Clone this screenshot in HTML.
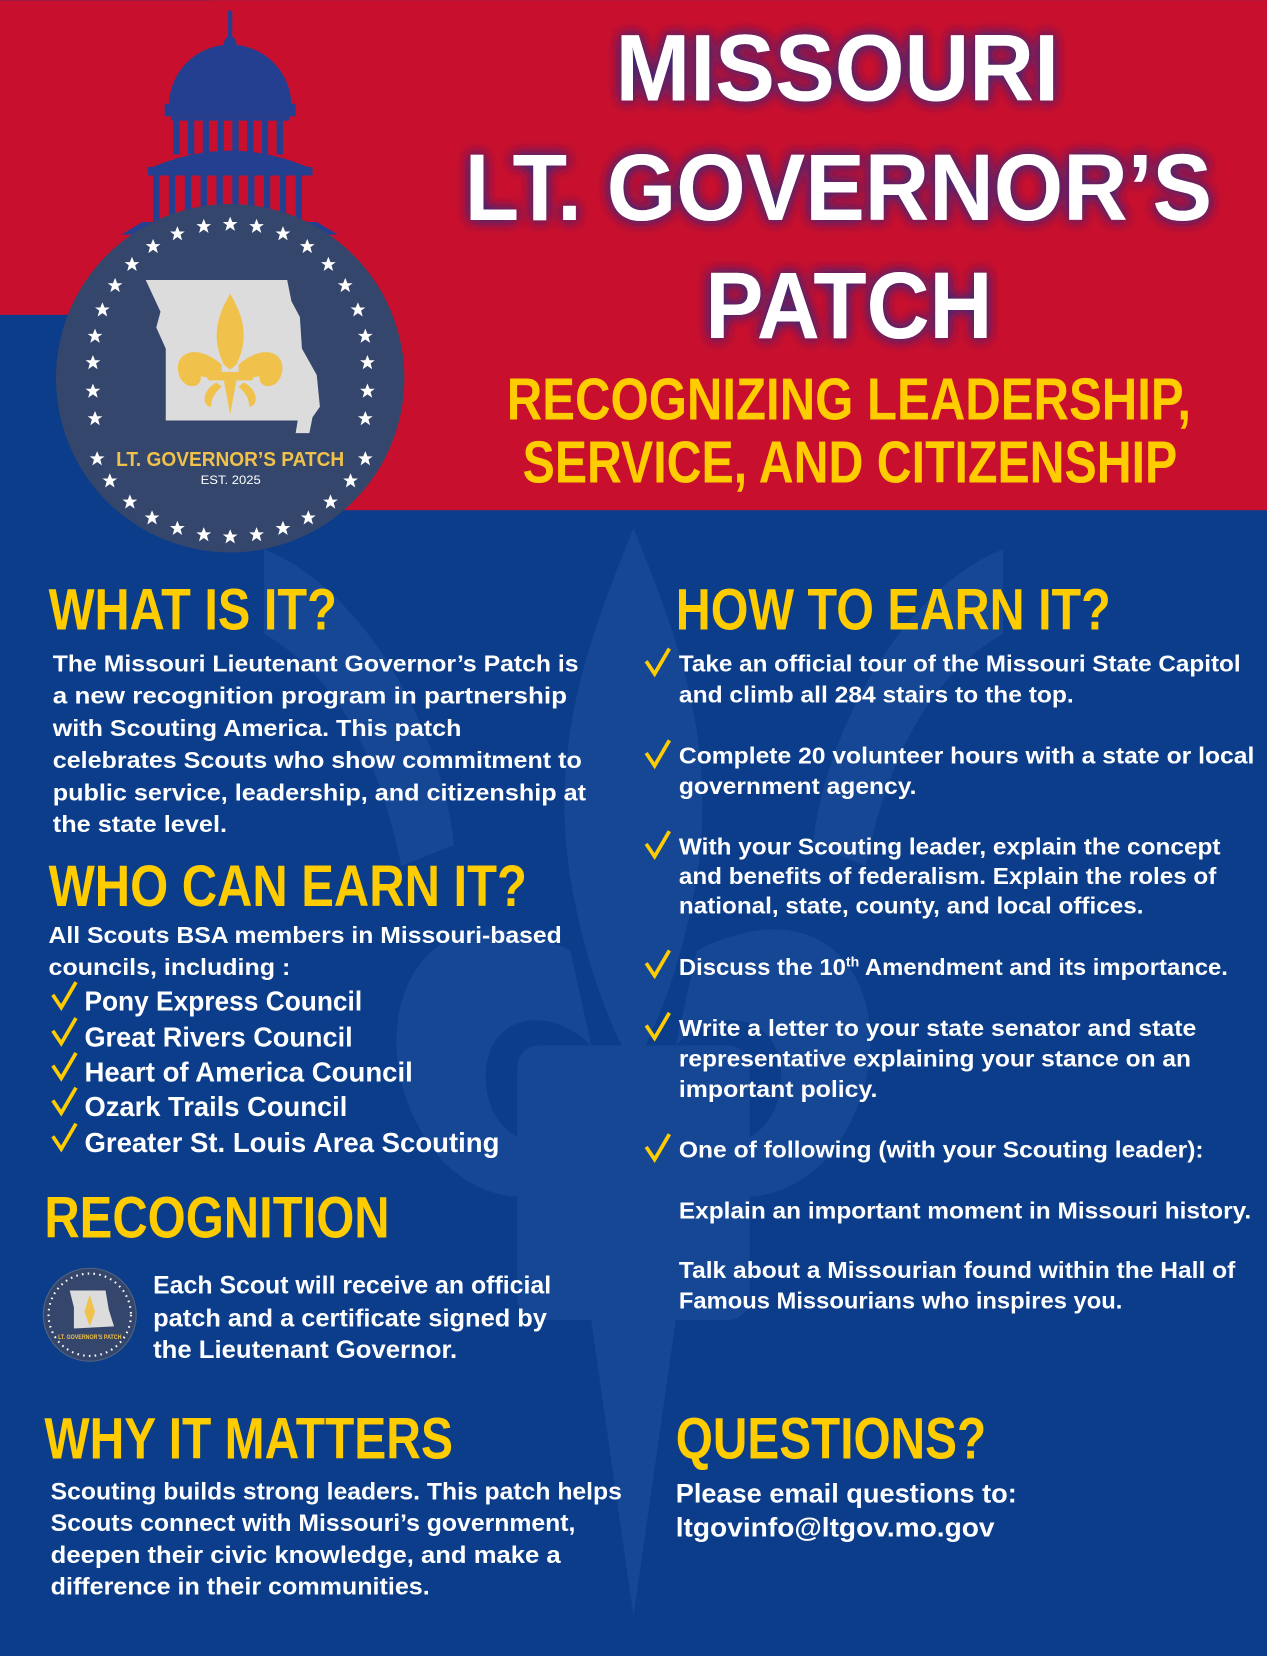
<!DOCTYPE html>
<html><head><meta charset="utf-8"><style>
html,body{margin:0;padding:0;width:1267px;height:1656px;overflow:hidden;background:#0b3d8b}
svg{display:block}
text{font-family:"Liberation Sans",sans-serif;font-weight:bold}
.w{fill:#fff;font-size:22px}
.y{fill:#ffcc00}
</style></head><body>
<svg width="1267" height="1656" viewBox="0 0 1200 1568" xmlns="http://www.w3.org/2000/svg">
<defs>
<filter id="glow" x="-20%" y="-40%" width="140%" height="180%"><feGaussianBlur in="SourceAlpha" stdDeviation="6" result="b"/><feFlood flood-color="#3a2a7a" flood-opacity="0.9"/><feComposite in2="b" operator="in" result="s"/><feMerge><feMergeNode in="s"/><feMergeNode in="s"/><feMergeNode in="SourceGraphic"/></feMerge></filter>
<g id="chk"><path d="M0 12 L8 24 L22 0" fill="none" stroke="#ffcc00" stroke-width="3.5"/></g>
</defs>
<rect width="1200" height="1568" fill="#0b3d8b"/>
<!-- watermark -->
<g fill="#2b5ca6" opacity="0.35">
<path d="M600 500 C560 600 520 700 540 830 C560 950 600 1010 600 1010 C600 1010 640 950 660 830 C680 700 640 600 600 500Z"/>
<path d="M540 900 C380 820 330 1000 420 1100 C480 1160 560 1130 560 1080 C520 1100 460 1080 460 1020 C460 960 520 950 560 990Z"/>
<path d="M660 900 C820 820 870 1000 780 1100 C720 1160 640 1130 640 1080 C680 1100 740 1080 740 1020 C740 960 680 950 640 990Z"/>
<rect x="490" y="990" width="220" height="260" rx="20"/>
<path d="M560 1250 L600 1530 L640 1250Z"/>
<path d="M250 520 C350 560 420 700 430 800 L380 820 C360 720 320 640 250 600Z"/>
<path d="M950 520 C850 560 780 700 770 800 L820 820 C840 720 880 640 950 600Z"/>
</g>
<!-- red header -->
<rect x="0" y="0" width="1200" height="298" fill="#c8102e"/>
<rect x="200" y="0" width="1000" height="483" fill="#c8102e"/>
<!-- capitol -->
<g fill="#243f8f">
<rect x="216" y="10" width="4" height="30"/>
<ellipse cx="218" cy="42" rx="6" ry="8"/>
<path d="M160 100 A58 58 0 0 1 276 100Z"/>
<rect x="156" y="98" width="124" height="12"/>
<rect x="162" y="110" width="112" height="4"/>
<g><rect x="164" y="114" width="6" height="32"/><rect x="178" y="114" width="6" height="32"/><rect x="192" y="114" width="6" height="32"/><rect x="206" y="114" width="6" height="32"/><rect x="220" y="114" width="6" height="32"/><rect x="234" y="114" width="6" height="32"/><rect x="248" y="114" width="6" height="32"/><rect x="262" y="114" width="6" height="32"/></g>
<path d="M140 160 Q218 125 296 160Z"/>
<rect x="140" y="158" width="156" height="8"/>
<g><rect x="145" y="166" width="6" height="50"/><rect x="160" y="166" width="6" height="50"/><rect x="175" y="166" width="6" height="50"/><rect x="190" y="166" width="6" height="50"/><rect x="205" y="166" width="6" height="50"/><rect x="220" y="166" width="6" height="50"/><rect x="235" y="166" width="6" height="50"/><rect x="250" y="166" width="6" height="50"/><rect x="265" y="166" width="6" height="50"/><rect x="280" y="166" width="6" height="50"/></g>
<path d="M115 222 L320 222 L300 210 L135 210Z"/>
</g>
<!-- seal -->
<circle cx="218" cy="358" r="165" fill="#34466b"/>
<g fill="#fff" id="stars"></g>
<path d="M138 265 L272 265 L276 285 L284 300 L286 330 L300 355 L303 385 L296 395 L293 410 L280 410 L282 398 L157 398 L157 330 L148 310 L152 295Z" fill="#dcdcdc"/>
<g fill="#f0c24b">
<path d="M218 278 C205 300 200 320 212 345 L218 350 L224 345 C236 320 231 300 218 278Z"/>
<path d="M210 345 C180 320 160 340 172 360 C180 370 192 365 190 356 C205 360 205 350 210 352Z"/>
<path d="M226 345 C256 320 276 340 264 360 C256 370 244 365 246 356 C231 360 231 350 226 352Z"/>
<rect x="196" y="352" width="44" height="8" rx="3"/>
<path d="M212 360 L218 392 L224 360Z"/>
<path d="M205 362 C190 370 192 385 200 385 C200 375 206 370 210 366Z"/>
<path d="M231 362 C246 370 244 385 236 385 C236 375 230 370 226 366Z"/>
</g>
<text x="110" y="441" fill="#f0c24b" font-size="19" textLength="216" lengthAdjust="spacingAndGlyphs">LT. GOVERNOR’S PATCH</text>
<text x="190" y="458" fill="#fff" font-size="11" textLength="57" lengthAdjust="spacingAndGlyphs" style="font-weight:normal">EST. 2025</text>
<!-- title -->
<g filter="url(#glow)" fill="#fff" font-size="90">
<text x="583" y="95" textLength="420" lengthAdjust="spacingAndGlyphs">MISSOURI</text>
<text x="440" y="208" textLength="708" lengthAdjust="spacingAndGlyphs">LT. GOVERNOR’S</text>
<text x="668" y="320" textLength="272" lengthAdjust="spacingAndGlyphs">PATCH</text>
</g>
<g fill="#ffcc00" font-size="56">
<text x="480" y="397" textLength="648" lengthAdjust="spacingAndGlyphs">RECOGNIZING LEADERSHIP,</text>
<text x="495" y="457" textLength="620" lengthAdjust="spacingAndGlyphs">SERVICE, AND CITIZENSHIP</text>
</g>
<!-- headings -->
<g class="y" font-size="55">
<text x="46" y="596" textLength="273" lengthAdjust="spacingAndGlyphs">WHAT IS IT?</text>
<text x="46" y="858" textLength="453" lengthAdjust="spacingAndGlyphs">WHO CAN EARN IT?</text>
<text x="640" y="596" textLength="412" lengthAdjust="spacingAndGlyphs">HOW TO EARN IT?</text>
<text x="42" y="1172" textLength="327" lengthAdjust="spacingAndGlyphs">RECOGNITION</text>
<text x="42" y="1381" textLength="387" lengthAdjust="spacingAndGlyphs">WHY IT MATTERS</text>
<text x="640" y="1381" textLength="294" lengthAdjust="spacingAndGlyphs">QUESTIONS?</text>
</g>
<!-- what is it -->
<g class="w" fill="#fff" font-size="22">
<text x="50" y="636" textLength="498" lengthAdjust="spacingAndGlyphs">The Missouri Lieutenant Governor’s Patch is</text>
<text x="50" y="666" textLength="487" lengthAdjust="spacingAndGlyphs">a new recognition program in partnership</text>
<text x="50" y="697" textLength="387" lengthAdjust="spacingAndGlyphs">with Scouting America. This patch</text>
<text x="50" y="727" textLength="501" lengthAdjust="spacingAndGlyphs">celebrates Scouts who show commitment to</text>
<text x="50" y="758" textLength="505" lengthAdjust="spacingAndGlyphs">public service, leadership, and citizenship at</text>
<text x="50" y="788" textLength="165" lengthAdjust="spacingAndGlyphs">the state level.</text>
<text x="46" y="893" textLength="486" lengthAdjust="spacingAndGlyphs">All Scouts BSA members in Missouri-based</text>
<text x="46" y="923" textLength="229" lengthAdjust="spacingAndGlyphs">councils,  including :</text>
</g>
<g fill="#fff" font-size="26">
<text x="80" y="957" textLength="263" lengthAdjust="spacingAndGlyphs">Pony Express Council</text>
<text x="80" y="991" textLength="254" lengthAdjust="spacingAndGlyphs">Great Rivers Council</text>
<text x="80" y="1024" textLength="311" lengthAdjust="spacingAndGlyphs">Heart of America Council</text>
<text x="80" y="1057" textLength="249" lengthAdjust="spacingAndGlyphs">Ozark Trails Council</text>
<text x="80" y="1091" textLength="393" lengthAdjust="spacingAndGlyphs">Greater St. Louis Area Scouting</text>
</g>
<use href="#chk" x="50" y="930"/><use href="#chk" x="50" y="964"/><use href="#chk" x="50" y="997"/><use href="#chk" x="50" y="1030"/><use href="#chk" x="50" y="1064"/>
<!-- recognition -->
<circle cx="85" cy="1245" r="44" fill="#34466b" stroke="#55657f" stroke-width="1"/>
<circle cx="85" cy="1245" r="39" fill="none" stroke="#fff" stroke-width="2" stroke-dasharray="1.5 4"/>
<path d="M66 1222 L100 1222 L103 1240 L108 1256 L70 1258 L70 1238Z" fill="#dcdcdc"/>
<path d="M85 1226 L80 1242 L85 1256 L90 1242Z" fill="#f0c24b"/>
<text x="55" y="1268" fill="#f0c24b" font-size="6" textLength="60" lengthAdjust="spacingAndGlyphs">LT. GOVERNOR’S PATCH</text>
<g fill="#fff" font-size="24">
<text x="145" y="1225" textLength="377" lengthAdjust="spacingAndGlyphs">Each Scout will receive an official</text>
<text x="145" y="1256" textLength="373" lengthAdjust="spacingAndGlyphs">patch and a certificate signed by</text>
<text x="145" y="1286" textLength="288" lengthAdjust="spacingAndGlyphs">the Lieutenant Governor.</text>
</g>
<!-- why -->
<g fill="#fff" font-size="23">
<text x="48" y="1420" textLength="541" lengthAdjust="spacingAndGlyphs">Scouting builds strong leaders. This patch helps</text>
<text x="48" y="1450" textLength="497" lengthAdjust="spacingAndGlyphs">Scouts connect with Missouri’s government,</text>
<text x="48" y="1480" textLength="483" lengthAdjust="spacingAndGlyphs">deepen their civic knowledge, and make a</text>
<text x="48" y="1510" textLength="359" lengthAdjust="spacingAndGlyphs">difference in their communities.</text>
</g>
<!-- how to earn -->
<g fill="#fff" font-size="22">
<text x="643" y="636" textLength="532" lengthAdjust="spacingAndGlyphs">Take an official tour of the Missouri State Capitol</text>
<text x="643" y="665" textLength="374" lengthAdjust="spacingAndGlyphs">and climb all 284 stairs to the top.</text>
<text x="643" y="723" textLength="545" lengthAdjust="spacingAndGlyphs">Complete 20 volunteer hours with a state or local</text>
<text x="643" y="752" textLength="225" lengthAdjust="spacingAndGlyphs">government agency.</text>
<text x="643" y="809" textLength="513" lengthAdjust="spacingAndGlyphs">With your Scouting leader, explain the concept</text>
<text x="643" y="837" textLength="509" lengthAdjust="spacingAndGlyphs">and benefits of federalism. Explain the roles of</text>
<text x="643" y="865" textLength="440" lengthAdjust="spacingAndGlyphs">national, state, county, and local offices.</text>
<text x="643" y="923" textLength="520" lengthAdjust="spacingAndGlyphs">Discuss the 10<tspan font-size="13" dy="-8">th</tspan><tspan dy="8"> Amendment and its importance.</tspan></text>
<text x="643" y="981" textLength="490" lengthAdjust="spacingAndGlyphs">Write a letter to your state senator and state</text>
<text x="643" y="1010" textLength="485" lengthAdjust="spacingAndGlyphs">representative explaining your stance on an</text>
<text x="643" y="1039" textLength="188" lengthAdjust="spacingAndGlyphs">important policy.</text>
<text x="643" y="1096" textLength="497" lengthAdjust="spacingAndGlyphs">One of following (with your Scouting leader):</text>
<text x="643" y="1154" textLength="542" lengthAdjust="spacingAndGlyphs">Explain an important moment in Missouri history.</text>
<text x="643" y="1210" textLength="527" lengthAdjust="spacingAndGlyphs">Talk about a Missourian found within the Hall of</text>
<text x="643" y="1239" textLength="420" lengthAdjust="spacingAndGlyphs">Famous Missourians who inspires you.</text>
</g>
<use href="#chk" x="612" y="614"/><use href="#chk" x="612" y="701"/><use href="#chk" x="612" y="787"/><use href="#chk" x="612" y="900"/><use href="#chk" x="612" y="959"/><use href="#chk" x="612" y="1074"/>
<!-- questions -->
<g fill="#fff" font-size="25">
<text x="640" y="1423" textLength="323" lengthAdjust="spacingAndGlyphs">Please email questions to:</text>
<text x="640" y="1455" textLength="302" lengthAdjust="spacingAndGlyphs">ltgovinfo@ltgov.mo.gov</text>
</g>
<!-- stars ring -->
<g fill="#fff">
<polygon points="0,-7 2,-2 7,-2 3,1 4.5,6.5 0,3.3 -4.5,6.5 -3,1 -7,-2 -2,-2" transform="translate(218,212)"/>
<polygon points="0,-7 2,-2 7,-2 3,1 4.5,6.5 0,3.3 -4.5,6.5 -3,1 -7,-2 -2,-2" transform="translate(243,214)"/>
<polygon points="0,-7 2,-2 7,-2 3,1 4.5,6.5 0,3.3 -4.5,6.5 -3,1 -7,-2 -2,-2" transform="translate(268,221)"/>
<polygon points="0,-7 2,-2 7,-2 3,1 4.5,6.5 0,3.3 -4.5,6.5 -3,1 -7,-2 -2,-2" transform="translate(291,233)"/>
<polygon points="0,-7 2,-2 7,-2 3,1 4.5,6.5 0,3.3 -4.5,6.5 -3,1 -7,-2 -2,-2" transform="translate(311,250)"/>
<polygon points="0,-7 2,-2 7,-2 3,1 4.5,6.5 0,3.3 -4.5,6.5 -3,1 -7,-2 -2,-2" transform="translate(327,270)"/>
<polygon points="0,-7 2,-2 7,-2 3,1 4.5,6.5 0,3.3 -4.5,6.5 -3,1 -7,-2 -2,-2" transform="translate(339,293)"/>
<polygon points="0,-7 2,-2 7,-2 3,1 4.5,6.5 0,3.3 -4.5,6.5 -3,1 -7,-2 -2,-2" transform="translate(346,318)"/>
<polygon points="0,-7 2,-2 7,-2 3,1 4.5,6.5 0,3.3 -4.5,6.5 -3,1 -7,-2 -2,-2" transform="translate(348,343)"/>
<polygon points="0,-7 2,-2 7,-2 3,1 4.5,6.5 0,3.3 -4.5,6.5 -3,1 -7,-2 -2,-2" transform="translate(348,370)"/>
<polygon points="0,-7 2,-2 7,-2 3,1 4.5,6.5 0,3.3 -4.5,6.5 -3,1 -7,-2 -2,-2" transform="translate(346,396)"/>
<polygon points="0,-7 2,-2 7,-2 3,1 4.5,6.5 0,3.3 -4.5,6.5 -3,1 -7,-2 -2,-2" transform="translate(346,434)"/>
<polygon points="0,-7 2,-2 7,-2 3,1 4.5,6.5 0,3.3 -4.5,6.5 -3,1 -7,-2 -2,-2" transform="translate(332,455)"/>
<polygon points="0,-7 2,-2 7,-2 3,1 4.5,6.5 0,3.3 -4.5,6.5 -3,1 -7,-2 -2,-2" transform="translate(313,475)"/>
<polygon points="0,-7 2,-2 7,-2 3,1 4.5,6.5 0,3.3 -4.5,6.5 -3,1 -7,-2 -2,-2" transform="translate(292,490)"/>
<polygon points="0,-7 2,-2 7,-2 3,1 4.5,6.5 0,3.3 -4.5,6.5 -3,1 -7,-2 -2,-2" transform="translate(268,500)"/>
<polygon points="0,-7 2,-2 7,-2 3,1 4.5,6.5 0,3.3 -4.5,6.5 -3,1 -7,-2 -2,-2" transform="translate(243,506)"/>
<polygon points="0,-7 2,-2 7,-2 3,1 4.5,6.5 0,3.3 -4.5,6.5 -3,1 -7,-2 -2,-2" transform="translate(218,508)"/>
<polygon points="0,-7 2,-2 7,-2 3,1 4.5,6.5 0,3.3 -4.5,6.5 -3,1 -7,-2 -2,-2" transform="translate(193,506)"/>
<polygon points="0,-7 2,-2 7,-2 3,1 4.5,6.5 0,3.3 -4.5,6.5 -3,1 -7,-2 -2,-2" transform="translate(168,500)"/>
<polygon points="0,-7 2,-2 7,-2 3,1 4.5,6.5 0,3.3 -4.5,6.5 -3,1 -7,-2 -2,-2" transform="translate(144,490)"/>
<polygon points="0,-7 2,-2 7,-2 3,1 4.5,6.5 0,3.3 -4.5,6.5 -3,1 -7,-2 -2,-2" transform="translate(123,475)"/>
<polygon points="0,-7 2,-2 7,-2 3,1 4.5,6.5 0,3.3 -4.5,6.5 -3,1 -7,-2 -2,-2" transform="translate(104,455)"/>
<polygon points="0,-7 2,-2 7,-2 3,1 4.5,6.5 0,3.3 -4.5,6.5 -3,1 -7,-2 -2,-2" transform="translate(92,434)"/>
<polygon points="0,-7 2,-2 7,-2 3,1 4.5,6.5 0,3.3 -4.5,6.5 -3,1 -7,-2 -2,-2" transform="translate(90,396)"/>
<polygon points="0,-7 2,-2 7,-2 3,1 4.5,6.5 0,3.3 -4.5,6.5 -3,1 -7,-2 -2,-2" transform="translate(88,370)"/>
<polygon points="0,-7 2,-2 7,-2 3,1 4.5,6.5 0,3.3 -4.5,6.5 -3,1 -7,-2 -2,-2" transform="translate(88,343)"/>
<polygon points="0,-7 2,-2 7,-2 3,1 4.5,6.5 0,3.3 -4.5,6.5 -3,1 -7,-2 -2,-2" transform="translate(90,318)"/>
<polygon points="0,-7 2,-2 7,-2 3,1 4.5,6.5 0,3.3 -4.5,6.5 -3,1 -7,-2 -2,-2" transform="translate(97,293)"/>
<polygon points="0,-7 2,-2 7,-2 3,1 4.5,6.5 0,3.3 -4.5,6.5 -3,1 -7,-2 -2,-2" transform="translate(109,270)"/>
<polygon points="0,-7 2,-2 7,-2 3,1 4.5,6.5 0,3.3 -4.5,6.5 -3,1 -7,-2 -2,-2" transform="translate(125,250)"/>
<polygon points="0,-7 2,-2 7,-2 3,1 4.5,6.5 0,3.3 -4.5,6.5 -3,1 -7,-2 -2,-2" transform="translate(145,233)"/>
<polygon points="0,-7 2,-2 7,-2 3,1 4.5,6.5 0,3.3 -4.5,6.5 -3,1 -7,-2 -2,-2" transform="translate(168,221)"/>
<polygon points="0,-7 2,-2 7,-2 3,1 4.5,6.5 0,3.3 -4.5,6.5 -3,1 -7,-2 -2,-2" transform="translate(193,214)"/>
</g>
</svg>
</body></html>
